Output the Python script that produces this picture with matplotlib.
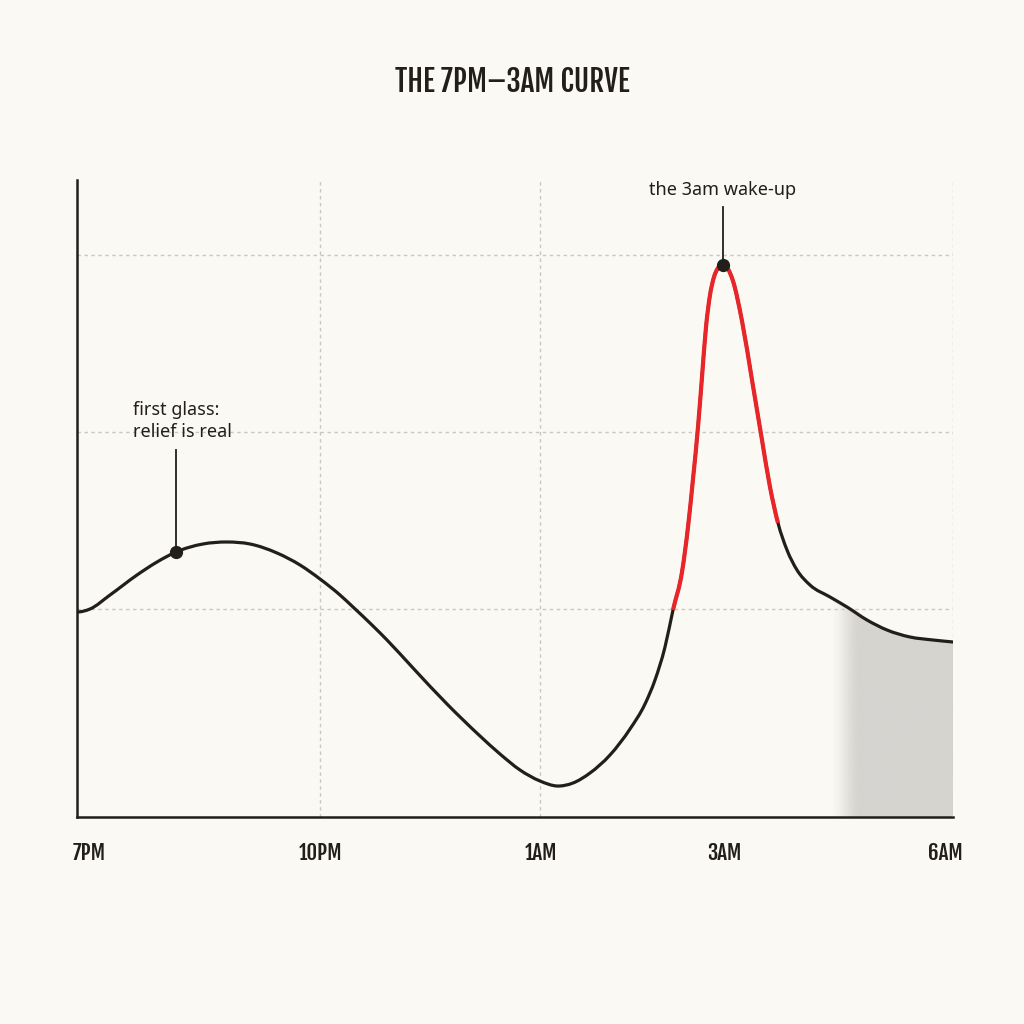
import numpy as np
import matplotlib
matplotlib.use("Agg")
import matplotlib.pyplot as plt
from matplotlib import font_manager as fm
from matplotlib.path import Path
from matplotlib.patches import PathPatch

# ---------------- data ----------------
# x: position along the night timeline (0 = 7PM ... 876 = 6AM)
x_pos = [0, 13, 33, 60, 80, 99, 126, 150, 173, 200,
         223, 243, 263, 276, 296, 310, 336, 370, 403, 423,
         443, 463, 480, 496, 513, 533, 553, 568, 578, 588,
         596, 605, 611, 616, 621, 625, 629, 633, 637, 641,
         646, 651, 656, 665, 675, 685, 693, 701, 710, 720,
         733, 753, 770, 790, 810, 833, 856, 876]
# y: felt intensity (arbitrary units, no y labels in the chart)
level = [205, 208, 222, 242, 255, 265, 273, 275, 273, 264,
         252, 238, 222, 210, 191, 177, 149, 113, 81, 63,
         47, 36, 31, 34, 44, 62, 88, 113, 137, 170,
         207, 245, 290, 338, 390, 440, 490, 522, 540, 549,
         552, 548, 536, 496, 437, 377, 330, 294, 267, 247,
         232, 220, 210, 197, 187, 180, 177, 175]

tick_labels = ["7PM", "10PM", "1AM", "3AM", "6AM"]
tick_pos = [0, 243, 463, 645, 876]

red_start, red_end = 596, 701            # highlighted wake-up segment
shade_start, shade_full = 753, 783       # faded grey area at the end
annotations = [
    {"x": 99, "y": 265, "text": "first glass:\nrelief is real"},
    {"x": 646, "y": 552, "text": "the 3am wake-up"},
]
h_grid = [208, 385, 562]
v_grid = [243, 463, 876]
XMAX, YMAX = 876, 637

# ---------------- fonts ----------------
def pick(cands, default="DejaVu Sans"):
    names = {f.name for f in fm.fontManager.ttflist}
    for c in cands:
        if c in names:
            return c
    return default

cond = pick(["Fjalla One", "Archivo Narrow", "Pathway Gothic One", "Oswald"])
body = pick(["Noto Sans", "Open Sans", "Lato"])

BG = "#fbf9f4"
INK = "#221e1b"
RED = "#e8262a"
GRID = "#c9c7c3"

fig = plt.figure(figsize=(10.24, 10.24), dpi=100, facecolor=BG)
ax = fig.add_axes([77/1024, 1 - 817/1024, (953-77)/1024, (817-180)/1024])
ax.set_facecolor(BG)

xs = np.array(x_pos, dtype=float)
ys = np.array(level, dtype=float)
ax.set_xlim(0, XMAX)
ax.set_ylim(0, YMAX)

# smooth (Hermite/Bezier) rendering of the line through the read points
h = np.diff(xs)
d = np.diff(ys) / h
m = np.empty_like(ys)
m[0], m[-1] = 0.0, d[-1]
m[1:-1] = (d[1:] * h[:-1] + d[:-1] * h[1:]) / (h[:-1] + h[1:])

def smooth_path(i0, i1):
    verts = [(xs[i0], ys[i0])]
    codes = [Path.MOVETO]
    for i in range(i0, i1):
        hh = xs[i + 1] - xs[i]
        verts += [(xs[i] + hh / 3, ys[i] + m[i] * hh / 3),
                  (xs[i + 1] - hh / 3, ys[i + 1] - m[i + 1] * hh / 3),
                  (xs[i + 1], ys[i + 1])]
        codes += [Path.CURVE4] * 3
    return Path(verts, codes)

# grid
for g in h_grid:
    ax.axhline(g, color=GRID, lw=1.0, ls=(0, (2.5, 2.5)), zorder=1)
for g in v_grid:
    ax.axvline(g, color=GRID, lw=1.0, ls=(0, (2.5, 2.5)), zorder=3 if g == XMAX else 1)

# shaded fade region under the curve
i_sh = int(np.searchsorted(xs, shade_start - 25))
sp = smooth_path(i_sh, len(xs) - 1)
sv = list(sp.vertices) + [(XMAX, 0), (xs[i_sh], 0), (xs[i_sh], ys[i_sh])]
sc = list(sp.codes) + [Path.LINETO, Path.LINETO, Path.CLOSEPOLY]
clip = Path(sv, sc)
gx = np.linspace(xs[i_sh], XMAX, 400)
alpha = np.clip((gx - shade_start) / (shade_full - shade_start), 0, 1)
alpha = alpha * alpha * (3 - 2 * alpha)
rgba = np.zeros((2, len(gx), 4))
rgba[..., 0] = 0xd6 / 255
rgba[..., 1] = 0xd4 / 255
rgba[..., 2] = 0xd0 / 255
rgba[..., 3] = alpha[None, :]
im = ax.imshow(rgba, extent=[xs[i_sh], XMAX, 0, YMAX], aspect="auto",
               origin="lower", zorder=2, interpolation="bilinear")
im.set_clip_path(clip, transform=ax.transData)

# main curve
ax.add_patch(PathPatch(smooth_path(0, len(xs) - 1), fill=False, edgecolor=INK,
                       lw=2.3, capstyle="round", zorder=4))
ir0 = int(np.argmin(abs(xs - red_start)))
ir1 = int(np.argmin(abs(xs - red_end)))
ax.add_patch(PathPatch(smooth_path(ir0, ir1), fill=False, edgecolor=RED,
                       lw=3.0, capstyle="butt", zorder=5))

# annotations
a0, a1 = annotations
ax.plot([a0["x"]], [a0["y"]], "o", color=INK, ms=8.5, zorder=6)
ax.plot([a0["x"], a0["x"]], [a0["y"], 367], color=INK, lw=1.3, zorder=6)
ax.text(56, 396, a0["text"], fontsize=13, family=body,
        color=INK, ha="left", va="center", linespacing=1.25, zorder=7)

ax.plot([a1["x"]], [a1["y"]], "o", color=INK, ms=8.5, zorder=6)
ax.plot([a1["x"], a1["x"]], [a1["y"], 610], color=INK, lw=1.3, zorder=6)
ax.text(a1["x"], 627, a1["text"], fontsize=13, family=body,
        color=INK, ha="center", va="center", zorder=7)

# axes styling
for s in ["top", "right"]:
    ax.spines[s].set_visible(False)
for s in ["left", "bottom"]:
    ax.spines[s].set_color(INK)
    ax.spines[s].set_linewidth(1.8)
ax.set_xticks([])
ax.set_yticks([])

# x labels
has = ["left", "center", "center", "center", "right"]
offs = [-4, 1, 1, 2, 10]
for p, lab, ha, o in zip(tick_pos, tick_labels, has, offs):
    ax.text(p + o, -0.0565, lab, transform=ax.get_xaxis_transform(), ha=ha, va="center",
            fontsize=15, family=cond, fontweight="bold", color=INK)

# title
fig.text(0.5, 1 - 82/1024, "THE 7PM\u20133AM CURVE", ha="center", va="center",
         fontsize=21, family=cond, fontweight="bold", color=INK)

fig.savefig("out.png", dpi=100, facecolor=BG)
